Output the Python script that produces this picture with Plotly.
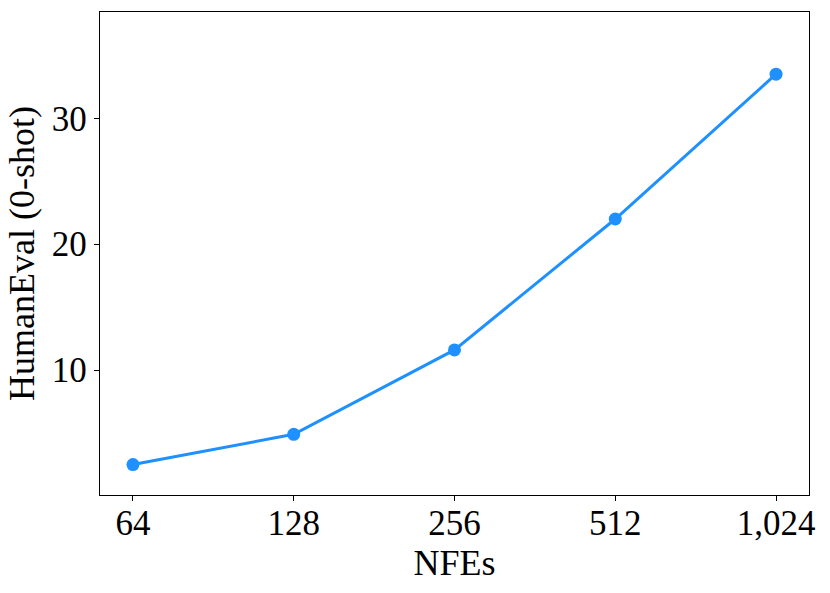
import math
import plotly.graph_objects as go

nfes = [64, 128, 256, 512, 1024]
humaneval = [2.5, 4.9, 11.6, 22.0, 33.5]
x_tick_labels = ["64", "128", "256", "512", "1,024"]
y_ticks = [10, 20, 30]

FONT = "Liberation Serif, Times New Roman, serif"
pad = 0.205 * math.log10(2)

fig = go.Figure(go.Scatter(
    x=nfes, y=humaneval,
    mode="lines+markers",
    line=dict(color="#1E90FF", width=3),
    marker=dict(color="#1E90FF", size=13),
))

axis_common = dict(
    showline=True, linecolor="black", linewidth=1.3, mirror=True,
    ticks="outside", ticklen=5, tickwidth=1.2, tickcolor="black",
    showgrid=False, zeroline=False,
    tickfont=dict(family=FONT, size=35, color="black"),
)

fig.update_xaxes(
    type="log",
    range=[math.log10(nfes[0]) - pad, math.log10(nfes[-1]) + pad],
    tickvals=nfes, ticktext=x_tick_labels,
    ticklabelstandoff=-8,
    title=dict(text="NFEs", font=dict(family=FONT, size=36, color="black"), standoff=6),
    **axis_common,
)
fig.update_yaxes(
    range=[0.08, 38.44],
    tickvals=y_ticks,
    title=dict(text="HumanEval (0-shot)", font=dict(family=FONT, size=36, color="black"), standoff=6),
    **axis_common,
)

fig.update_layout(
    width=830, height=593,
    margin=dict(l=100, r=21, t=12, b=98),
    paper_bgcolor="white", plot_bgcolor="white",
    showlegend=False,
)

fig.write_html("out.html", config={"displayModeBar": False},
               post_script="document.body.style.margin='0';")
